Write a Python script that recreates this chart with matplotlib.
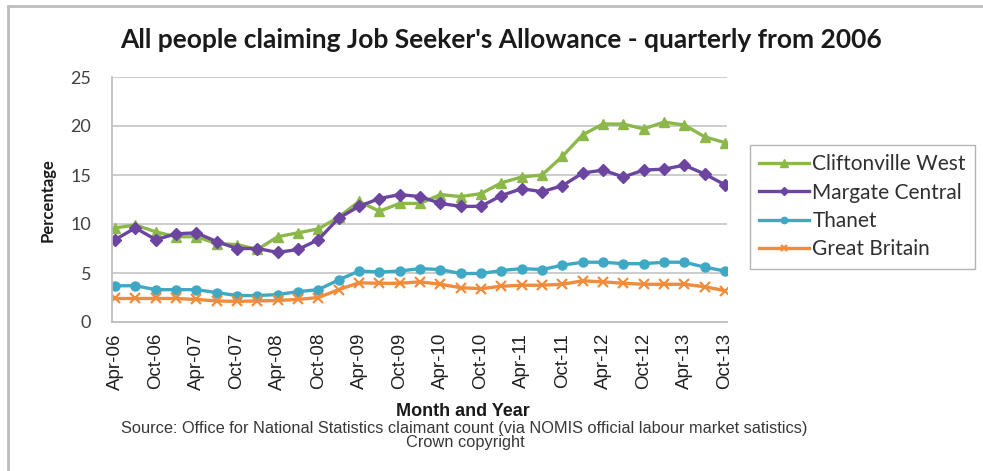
import matplotlib
matplotlib.use("Agg")
import matplotlib.pyplot as plt
from matplotlib.patches import Rectangle
import numpy as np

quarters = ["Apr-06", "Jul-06", "Oct-06", "Jan-07", "Apr-07", "Jul-07", "Oct-07", "Jan-08",
            "Apr-08", "Jul-08", "Oct-08", "Jan-09", "Apr-09", "Jul-09", "Oct-09", "Jan-10",
            "Apr-10", "Jul-10", "Oct-10", "Jan-11", "Apr-11", "Jul-11", "Oct-11", "Jan-12",
            "Apr-12", "Jul-12", "Oct-12", "Jan-13", "Apr-13", "Jul-13", "Oct-13"]

cliftonville_west = [9.6, 9.9, 9.2, 8.7, 8.7, 8.0, 7.9, 7.4, 8.7, 9.1, 9.5, 10.7, 12.3, 11.3,
                     12.1, 12.1, 13.0, 12.8, 13.1, 14.2, 14.8, 15.0, 16.9, 19.1, 20.2, 20.2,
                     19.7, 20.4, 20.1, 18.9, 18.3]
margate_central = [8.4, 9.6, 8.4, 9.0, 9.1, 8.2, 7.5, 7.5, 7.1, 7.4, 8.4, 10.6, 11.8, 12.6,
                   13.0, 12.8, 12.1, 11.8, 11.8, 12.9, 13.6, 13.3, 13.9, 15.2, 15.5, 14.8,
                   15.5, 15.6, 16.0, 15.1, 14.0]
thanet = [3.7, 3.7, 3.3, 3.3, 3.3, 3.0, 2.7, 2.7, 2.8, 3.1, 3.3, 4.3, 5.2, 5.1, 5.2, 5.45,
          5.35, 4.95, 4.95, 5.25, 5.45, 5.35, 5.8, 6.1, 6.1, 5.95, 5.95, 6.1, 6.1, 5.6, 5.2]
great_britain = [2.4, 2.4, 2.4, 2.4, 2.3, 2.15, 2.1, 2.15, 2.2, 2.3, 2.5, 3.3, 4.0, 3.95,
                 3.95, 4.1, 3.85, 3.5, 3.4, 3.65, 3.75, 3.75, 3.85, 4.2, 4.1, 3.95, 3.85,
                 3.85, 3.85, 3.6, 3.2]

series_names = ["Cliftonville West", "Margate Central", "Thanet", "Great Britain"]
y_ticks = [0, 5, 10, 15, 20, 25]

colors = ["#8CB84A", "#6B45A0", "#3FA9C5", "#F08C3C"]
markers = ["^", "D", "o", "x"]
msizes = [7.5, 6, 6.5, 7]

fig = plt.figure(figsize=(9.83, 4.71), dpi=100)
ax = fig.add_axes([112/983, 1 - 322/471, (727 - 112)/983, (322 - 77)/471])

x = np.arange(len(quarters))
all_series = [cliftonville_west, margate_central, thanet, great_britain]
for name, vals, c, m, ms in zip(series_names, all_series, colors, markers, msizes):
    ax.plot(x, vals, color=c, lw=2.4, marker=m, markersize=ms, markeredgecolor=c,
            markerfacecolor=c, markeredgewidth=1.6 if m == "x" else 1, label=name)

ax.set_xlim(-0.15, len(quarters) - 1 + 0.1)
ax.set_ylim(0, 25)
ax.set_yticks(y_ticks)
ax.set_yticklabels([str(v) for v in y_ticks], fontsize=13, color="#404040",
                   family="Lato")
ax.set_xticks(x[::2])
ax.set_xticklabels(quarters[::2], rotation=90, fontsize=13.5, family="Liberation Sans",
                   color="#202020")
ax.tick_params(axis="x", length=0, pad=8)
ax.tick_params(axis="y", length=0, pad=15)
ax.grid(axis="y", color="#C8C8C8", lw=1.3)
ax.set_axisbelow(True)
for s in ["top", "right"]:
    ax.spines[s].set_visible(False)
for s in ["left", "bottom"]:
    ax.spines[s].set_color("#BEBEBE")
    ax.spines[s].set_linewidth(1.3)

leg = ax.legend(loc="upper left", bbox_to_anchor=(750/983, 1 - 145/471),
                bbox_transform=fig.transFigure, frameon=True, fancybox=False,
                prop={"family": "Lato", "size": 15}, handlelength=2.4,
                handletextpad=0.15, labelspacing=0.4, borderpad=0.45,
                borderaxespad=0, markerscale=0.7)
leg.get_frame().set_edgecolor("#A0A0A0")
leg.get_frame().set_linewidth(1.0)
for t in leg.get_texts():
    t.set_color("#303030")

fig.text(501/983, 1 - 40/471, "All people claiming Job Seeker's Allowance - quarterly from 2006",
         ha="center", va="center", fontsize=19, fontweight="bold", family="Lato",
         color="#1A1A1A")
fig.text(48/983, 1 - 200/471, "Percentage", rotation=90, ha="center", va="center",
         fontsize=12, fontweight="bold", family="Lato", color="#1A1A1A")
fig.text(463/983, 1 - 412/471, "Month and Year", ha="center", va="center",
         fontsize=13, fontweight="bold", family="Liberation Sans", color="#1A1A1A")
fig.text(464/983, 1 - 429/471,
         "Source: Office for National Statistics claimant count (via NOMIS official labour market satistics)",
         ha="center", va="center", fontsize=11.8, family="Liberation Sans", color="#383838")
fig.text(465/983, 1 - 443/471, "Crown copyright", ha="center", va="center",
         fontsize=11.8, family="Liberation Sans", color="#383838")

border = Rectangle((8/983, -0.1), 1.2, 1 - 6/471 + 0.1, transform=fig.transFigure,
                   fill=False, edgecolor="#BDBDBD", lw=2, clip_on=False)
fig.patches.append(border)

fig.savefig("out.png", dpi=100, facecolor="white")
